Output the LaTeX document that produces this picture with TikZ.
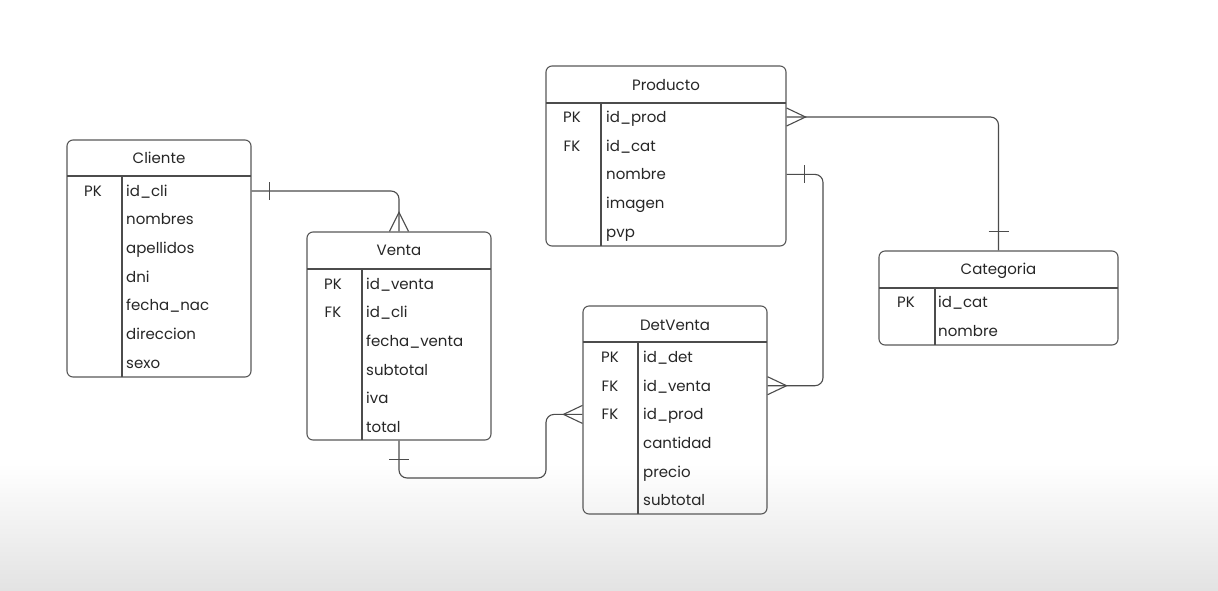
\documentclass[tikz,border=0pt]{standalone}
\usepackage{fontspec}
\setmainfont{Poppins}
\usetikzlibrary{calc}
\tikzset{
    tbl/.style={draw=black!65, line width=1.1pt, rounded corners=6pt, inner sep=0pt},
    sep/.style={draw=black!70, line width=1.1pt},
    rel/.style={draw=black!70, line width=1.1pt},
    ttl/.style={text=black!85, font=\fontsize{15}{18}\selectfont, inner sep=0pt, text height=10.6pt, text depth=0pt},
    fld/.style={anchor=west, text=black!85, font=\fontsize{15}{18}\selectfont, inner sep=0pt, text height=10.6pt, text depth=0pt},
    key/.style={text=black!85, font=\fontsize{15}{18}\selectfont, inner sep=0pt, text height=10.6pt, text depth=0pt}
}

\begin{document}
\begin{tikzpicture}[x=1pt, y=-1pt]
    \useasboundingbox (0,0) rectangle (1218,590);
    \fill[white] (0,0) rectangle (1218,463);
    \shade[top color=white, bottom color=gray!22] (0,463) rectangle (1218,590);

    % Cliente
    \node [tbl, minimum width=184pt, minimum height=237pt] (cliente) at (159,258.5) {};
    \node [ttl] (cliente-t) at (159,158) {Cliente};
    \draw [sep] (67,176) -- (251,176);
    \draw [sep] (122,176) -- (122,377);
    \foreach \t [count=\i] in {id\_cli, nombres, apellidos, dni, fecha\_nac, direccion, sexo}
      \node [fld] (cli-\i) at (126, 191+28.67*\i-28.67) {\t};
    \node [key] (cli-k1) at (93,191) {PK};

    % Venta
    \node [tbl, minimum width=184pt, minimum height=208pt] (venta) at (399,336) {};
    \node [ttl] (venta-t) at (399,250) {Venta};
    \draw [sep] (307,269) -- (491,269);
    \draw [sep] (362,269) -- (362,440);
    \foreach \t [count=\i] in {id\_venta, id\_cli, fecha\_venta, subtotal, iva, total}
      \node [fld] (ven-\i) at (366, 284+28.6*\i-28.6) {\t};
    \node [key] (ven-k1) at (333,284) {PK};
    \node [key] (ven-k2) at (333,312.6) {FK};

    % Producto
    \node [tbl, minimum width=240pt, minimum height=180pt] (producto) at (666,156) {};
    \node [ttl] (producto-t) at (666,85) {Producto};
    \draw [sep] (546,103) -- (786,103);
    \draw [sep] (601,103) -- (601,246);
    \foreach \t [count=\i] in {id\_prod, id\_cat, nombre, imagen, pvp}
      \node [fld] (prod-\i) at (606, 117+28.7*\i-28.7) {\t};
    \node [key] (prod-k1) at (572,117) {PK};
    \node [key] (prod-k2) at (572,145.7) {FK};

    % Categoria
    \node [tbl, minimum width=239pt, minimum height=94pt] (categoria) at (998.5,298) {};
    \node [ttl] (categoria-t) at (998.5,269) {Categoria};
    \draw [sep] (879,288) -- (1118,288);
    \draw [sep] (935,288) -- (935,345);
    \foreach \t [count=\i] in {id\_cat, nombre}
      \node [fld] (cat-\i) at (938, 302+29*\i-29) {\t};
    \node [key] (cat-k1) at (906,302) {PK};

    % DetVenta
    \node [tbl, minimum width=184pt, minimum height=208pt] (detventa) at (675,410) {};
    \node [ttl] (detventa-t) at (675,325) {DetVenta};
    \draw [sep] (583,342) -- (767,342);
    \draw [sep] (638,342) -- (638,514);
    \foreach \t [count=\i] in {id\_det, id\_venta, id\_prod, cantidad, precio, subtotal}
      \node [fld] (dv-\i) at (643, 357+28.7*\i-28.7) {\t};
    \node [key] (dv-k1) at (610,357) {PK};
    \node [key] (dv-k2) at (610,385.7) {FK};
    \node [key] (dv-k3) at (610,414.4) {FK};

    % relaciones
    \coordinate (bend1) at (546,478);
    \coordinate (bend2) at (823,0);

    \draw [rel, rounded corners=8pt] (cliente.east |- cli-1) -| (venta.north);
    \draw [rel] ($(cliente.east |- cli-1)+(18,-9)$) -- ++(0,18);
    \draw [rel] ($(venta.north)+(-9.5,0)$) -- ++(9.5,-19) -- ++(9.5,19);

    \draw [rel, rounded corners=8pt] (venta.south) |- (bend1) |- (detventa.west |- dv-3);
    \draw [rel] ($(venta.south)+(-10,19)$) -- ++(20,0);
    \draw [rel] ($(detventa.west |- dv-3)+(0,-9)$) -- ++(-19,9) -- ++(19,9);

    \draw [rel, rounded corners=8pt] (producto.east |- prod-3) -| (bend2 |- dv-2) -- (detventa.east |- dv-2);
    \draw [rel] ($(producto.east |- prod-3)+(18,-9)$) -- ++(0,18);
    \draw [rel] ($(detventa.east |- dv-2)+(0,-9)$) -- ++(19,9) -- ++(-19,9);

    \draw [rel, rounded corners=8pt] (producto.east |- prod-1) -| (categoria.north);
    \draw [rel] ($(producto.east |- prod-1)+(0,-9)$) -- ++(19,9) -- ++(-19,9);
    \draw [rel] ($(categoria.north)+(-10,-19)$) -- ++(20,0);
\end{tikzpicture}
\end{document}
